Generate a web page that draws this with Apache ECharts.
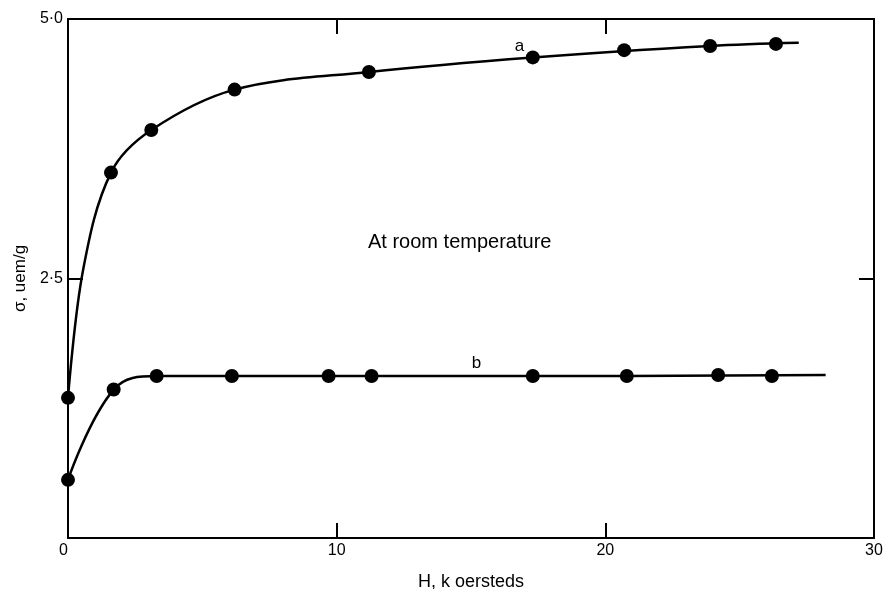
<!DOCTYPE html>
<html>
<head>
<meta charset="utf-8">
<script src="https://cdn.jsdelivr.net/npm/echarts@6/dist/echarts.min.js"></script>
<style>
  html, body { margin: 0; padding: 0; background: #fff; }
  #chart { width: 886px; height: 589px; }
</style>
</head>
<body>
<div id="chart"></div>
<script>
// measured points, H in k oersteds, sigma in uem/g
const aH = [0, 1.6, 3.1, 6.2, 11.2, 17.3, 20.7, 23.9, 26.35];
const aSigma = [1.35, 3.52, 3.93, 4.32, 4.49, 4.63, 4.70, 4.74, 4.76];
const bH = [0, 1.7, 3.3, 6.1, 9.7, 11.3, 17.3, 20.8, 24.2, 26.2];
const bSigma = [0.56, 1.43, 1.56, 1.56, 1.56, 1.56, 1.56, 1.56, 1.57, 1.56];

// drawn curves (they run a little past the last point)
const aCurveH = [0, 0.56, 1.6, 3.1, 6.2, 11.2, 17.3, 23.9, 27.2];
const aCurveSigma = [1.35, 2.58, 3.52, 3.93, 4.32, 4.49, 4.63, 4.74, 4.77];
const bCurveH = [0, 1.7, 3.3, 6.1, 17.3, 28.2];
const bCurveSigma = [0.56, 1.43, 1.56, 1.56, 1.56, 1.57];

const curveLabels = [
  { name: "a", h: 16.8, sigma: 4.74 },
  { name: "b", h: 15.2, sigma: 1.68 },
];

const xTicks = [0, 10, 20, 30];
const yTicks = [0, 2.5, 5.0];

const font = "Liberation Sans, Arial, sans-serif";
const ink = "#000";

const pair = (xs, ys) => xs.map((x, i) => [x, ys[i]]);

const chart = echarts.init(document.getElementById("chart"));

const axisBase = {
  type: "value",
  splitLine: { show: false },
  axisLine: { show: true, onZero: false, lineStyle: { color: ink, width: 2 } },
  axisTick: { show: true, inside: true, length: 15, lineStyle: { color: ink, width: 2 } },
};

const option = {
  backgroundColor: "#fff",
  animation: false,
  grid: { left: 68, top: 19, right: 12, bottom: 51, outerBoundsMode: "none", containLabel: false },
  xAxis: [
    {
      ...axisBase,
      position: "bottom",
      min: xTicks[0],
      max: xTicks[xTicks.length - 1],
      interval: 10,
      name: "H, k oersteds",
      nameLocation: "middle",
      nameGap: 35,
      nameTextStyle: { fontFamily: font, fontSize: 18, color: ink },
      axisLabel: {
        fontFamily: font, fontSize: 16, color: ink, margin: 5,
        alignMinLabel: "right",
        formatter: (v) => (xTicks.includes(v) ? String(v) : ""),
      },
    },
    {
      ...axisBase,
      position: "top",
      min: xTicks[0],
      max: xTicks[xTicks.length - 1],
      interval: 10,
      axisLabel: { show: false },
    },
  ],
  yAxis: [
    {
      ...axisBase,
      position: "left",
      min: yTicks[0],
      max: yTicks[yTicks.length - 1],
      interval: 2.5,
      name: "σ, uem/g",
      nameLocation: "middle",
      nameGap: 35,
      nameTextStyle: { fontFamily: font, fontSize: 17, color: ink },
      axisLabel: {
        fontFamily: font, fontSize: 16, color: ink, margin: 5,
        formatter: (v) => (v === 0 ? "" : v.toFixed(1).replace(".", "·")),
      },
    },
    {
      ...axisBase,
      position: "right",
      min: yTicks[0],
      max: yTicks[yTicks.length - 1],
      interval: 2.5,
      axisLabel: { show: false },
    },
  ],
  graphic: [
    {
      type: "text",
      left: 368,
      top: 232,
      style: { text: "At room temperature", fontFamily: font, fontSize: 20, fill: ink },
    },
  ],
  series: [
    {
      name: "a curve",
      type: "line",
      data: pair(aCurveH, aCurveSigma),
      smooth: 0.35,
      showSymbol: false,
      lineStyle: { color: ink, width: 2.5 },
    },
    {
      name: "b curve",
      type: "line",
      data: pair(bCurveH, bCurveSigma),
      smooth: 0.4,
      showSymbol: false,
      lineStyle: { color: ink, width: 2.5 },
    },
    {
      name: "a",
      type: "scatter",
      data: pair(aH, aSigma),
      symbolSize: 14,
      itemStyle: { color: ink, opacity: 1 },
      z: 5,
    },
    {
      name: "b",
      type: "scatter",
      data: pair(bH, bSigma),
      symbolSize: 14,
      itemStyle: { color: ink, opacity: 1 },
      z: 5,
    },
    {
      name: "labels",
      type: "scatter",
      data: curveLabels.map((c) => ({ value: [c.h, c.sigma], name: c.name })),
      symbolSize: 0,
      itemStyle: { opacity: 1 },
      label: {
        show: true,
        position: "inside",
        formatter: (p) => p.name,
        fontFamily: font,
        fontSize: 17,
        color: ink,
      },
    },
  ],
};

chart.setOption(option);
</script>
</body>
</html>
